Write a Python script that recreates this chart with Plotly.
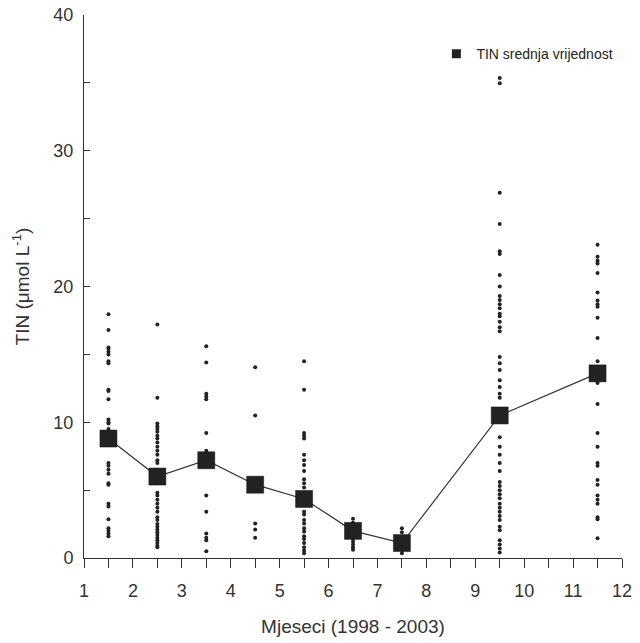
import plotly.graph_objects as go

# Month positions of the sample columns
months = [1.5, 2.5, 3.5, 4.5, 5.5, 6.5, 7.5, 9.5, 11.5]

# Mean TIN per month
means = [8.8, 6.0, 7.2, 5.4, 4.35, 2.0, 1.1, 10.5, 13.6]

# Individual measurements per month
vals_1 = [17.96, 16.8, 15.5, 15.4, 15.2, 15.0, 14.5, 14.35, 12.4, 12.3, 11.7, 10.2, 10.0, 9.9,
          9.5, 8.6, 7.0, 6.8, 6.5, 6.2, 5.5, 5.4, 4.0, 3.8, 2.85, 2.2, 2.0, 1.8, 1.6]
vals_2 = [17.2, 11.8, 9.9, 9.7, 9.5, 9.3, 9.0, 8.8, 8.5, 8.2, 7.9, 7.6, 7.2, 7.0, 6.5, 5.5,
          4.8, 4.6, 4.3, 4.0, 3.7, 3.4, 3.0, 2.8, 2.5, 2.3, 2.1, 1.9, 1.7, 1.5, 1.3, 1.1, 0.9, 0.8]
vals_3 = [15.6, 14.4, 12.1, 11.9, 11.7, 9.2, 7.9, 6.8, 4.6, 3.4, 1.8, 1.5, 1.3, 0.5]
vals_4 = [14.05, 10.5, 2.55, 2.1, 1.5]
vals_5 = [14.5, 12.4, 9.2, 9.0, 8.8, 7.6, 7.2, 6.85, 6.4, 5.8, 5.5, 5.2, 3.4, 3.2, 2.8, 2.55,
          2.2, 1.95, 1.6, 1.4, 1.1, 0.8, 0.55, 0.35]
vals_6 = [2.9, 2.6, 1.4, 1.2, 1.0, 0.8, 0.6]
vals_7 = [2.2, 1.9, 1.5, 1.2, 0.9, 0.6, 0.35]
vals_9 = [35.35, 34.98, 26.9, 24.6, 22.6, 22.4, 20.85, 20.0, 19.3, 19.0, 18.7, 18.4, 18.0,
          17.8, 17.4, 17.0, 16.7, 14.8, 14.35, 13.85, 13.1, 12.6, 12.1, 11.8, 8.9, 8.2, 7.6,
          7.0, 6.4, 5.6, 5.3, 5.0, 4.7, 4.4, 4.0, 3.7, 3.4, 3.1, 2.8, 2.3, 2.05, 1.3, 1.0, 0.7, 0.4]
vals_11 = [23.07, 22.2, 21.9, 21.7, 21.0, 19.55, 18.96, 18.7, 18.5, 17.7, 16.2, 14.5, 12.9,
           11.35, 9.2, 8.2, 7.0, 6.8, 5.75, 5.4, 4.6, 4.3, 4.0, 3.0, 2.85, 1.45]

all_vals = [vals_1, vals_2, vals_3, vals_4, vals_5, vals_6, vals_7, vals_9, vals_11]

x_ticks = list(range(1, 13))
y_ticks = [0, 10, 20, 30, 40]

dot_x, dot_y = [], []
for m, vs in zip(months, all_vals):
    dot_x += [m] * len(vs)
    dot_y += vs

fig = go.Figure()
fig.add_trace(go.Scatter(
    x=dot_x, y=dot_y, mode="markers",
    marker=dict(symbol="circle", size=4, color="#222222"),
    showlegend=False, hoverinfo="skip"))
fig.add_trace(go.Scatter(
    x=months, y=means, mode="lines+markers",
    name="TIN srednja vrijednost", showlegend=False,
    line=dict(color="#333333", width=1.2),
    marker=dict(symbol="square", size=17, color="#222222",
                line=dict(color="#111111", width=0.5))))
# legend entry: marker only
fig.add_trace(go.Scatter(
    x=[None], y=[None], mode="markers", name="TIN srednja vrijednost",
    marker=dict(symbol="square", size=9, color="#222222")))

axis_font = dict(family="Liberation Sans, Arial, sans-serif", size=18, color="#333333")
title_font = dict(family="Liberation Sans, Arial, sans-serif", size=19, color="#333333")

fig.update_layout(
    width=640, height=643,
    margin=dict(l=84, r=18, t=15, b=85),
    paper_bgcolor="white", plot_bgcolor="white",
    font=dict(family="Liberation Sans, Arial, sans-serif", color="#333333"),
    legend=dict(x=0.655, y=0.928, xanchor="left", yanchor="middle",
                bgcolor="rgba(0,0,0,0)", font=dict(size=14, color="#222222"),
                itemsizing="trace"),
    xaxis=dict(range=[1, 12], tickvals=x_ticks, ticks="outside", ticklen=9,
               tickcolor="#333333", showline=True, linecolor="#333333", linewidth=1,
               showgrid=False, zeroline=False, tickfont=axis_font, ticklabelstandoff=7,
               automargin=False,
               minor=dict(dtick=0.5, ticks="outside", ticklen=9, tickcolor="#333333",
                          showgrid=False),
               title=dict(text="Mjeseci (1998 - 2003)", font=title_font, standoff=20)),
    yaxis=dict(range=[0, 40], tickvals=y_ticks, ticks="inside", ticklen=6,
               tickcolor="#333333", showline=True, linecolor="#333333", linewidth=1,
               showgrid=False, zeroline=False, tickfont=axis_font, ticklabelstandoff=6,
               automargin=False,
               minor=dict(dtick=5, ticks="inside", ticklen=6, tickcolor="#333333",
                          showgrid=False),
               title=dict(text="TIN (μmol L<sup>-1</sup>)", font=title_font, standoff=18)),
)

fig.write_html("out.html")
